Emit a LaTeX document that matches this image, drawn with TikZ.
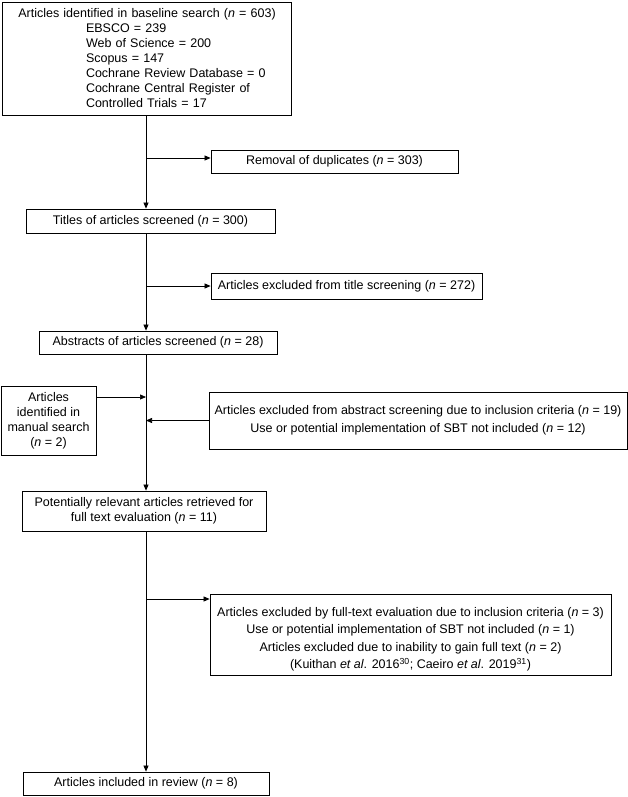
\documentclass[tikz,border=0pt]{standalone}
\usepackage{fontspec}
\setmainfont{Liberation Sans}
\usetikzlibrary{arrows.meta}
\begin{document}
\begin{tikzpicture}[x=1pt,y=-1pt,
  box/.style={draw, line width=0.8pt, inner sep=0pt, align=center, font=\fontsize{12.5}{15}\selectfont},
  conn/.style={line width=0.7pt},
  arr/.style={conn, -{Triangle[length=6pt,width=5pt]}}]
\useasboundingbox (0,0) rectangle (628,797);
\coordinate (s) at (146,0);

\node[box, minimum width=289pt, minimum height=113pt, text width=273pt, align=left] (b1) at (146.5,58.5)
 {\hspace*{8.3pt}Articles identified in baseline search (\textit{n} = 603)\\
  \hspace*{76pt}EBSCO = 239\\
  \hspace*{76pt}Web of Science = 200\\
  \hspace*{76pt}Scopus = 147\\
  \hspace*{76pt}Cochrane Review Database = 0\\
  \hspace*{76pt}Cochrane Central Register of\\
  \hspace*{76pt}Controlled Trials = 17};

\node[box, minimum width=247pt, minimum height=23pt] (rem) at (334.5,161.5)
 {Removal of duplicates (\textit{n} = 303)};

\node[box, minimum width=249pt, minimum height=24pt] (titles) at (150.5,221)
 {Titles of articles screened (\textit{n} = 300)};

\node[box, minimum width=271pt, minimum height=26pt] (texcl) at (346.5,286)
 {Articles excluded from title screening (\textit{n} = 272)};

\node[box, minimum width=238pt, minimum height=23pt] (abs) at (158,342.5)
 {Abstracts of articles screened (\textit{n} = 28)};

\node[box, minimum width=95pt, minimum height=69pt] (manual) at (48.5,420.5)
 {Articles\\ identified in\\ manual search\\ (\textit{n} = 2)};

\node[box, minimum width=418pt, minimum height=57pt, font=\fontsize{12.5}{18}\selectfont] (aexcl) at (418,420.5)
 {Articles excluded from abstract screening due to inclusion criteria (\textit{n} = 19)\\
  Use or potential implementation of SBT not included (\textit{n} = 12)};

\node[box, minimum width=244pt, minimum height=40pt] (pot) at (144,511)
 {Potentially relevant articles retrieved for\\ full text evaluation (\textit{n} = 11)};

\node[box] (fexcl) at (410.5,634.5)
 {\parbox[c][81pt][c]{401pt}{\fontsize{12.5}{17.5}\selectfont\centering\vspace*{10pt}%
  Articles excluded by full-text evaluation due to inclusion criteria (\textit{n} = 3)\\
  Use or potential implementation of SBT not included (\textit{n} = 1)\\
  Articles excluded due to inability to gain full text (\textit{n} = 2)\\
  (Kuithan \textit{et al}. 2016\textsuperscript{30}; Caeiro \textit{et al}. 2019\textsuperscript{31})\par}};

\node[box, minimum width=246pt, minimum height=23pt] (final) at (146,783.5)
 {Articles included in review (\textit{n} = 8)};

\draw[arr] (b1.south -| s) -- (titles.north -| s);
\draw[arr] ([yshift=3.5pt]rem.west -| s) -- ([yshift=3.5pt]rem.west);
\draw[arr] (titles.south -| s) -- (abs.north -| s);
\draw[arr] (texcl.west -| s) -- (texcl.west);
\draw[arr] (abs.south -| s) -- (pot.north -| s);
\draw[arr] ([yshift=23.5pt]manual.east) -- ([yshift=23.5pt]manual.east -| s);
\draw[arr] (aexcl.west) -- (aexcl.west -| s);
\draw[arr] (pot.south -| s) -- (final.north -| s);
\draw[arr] ([yshift=35.5pt]fexcl.west -| s) -- ([yshift=35.5pt]fexcl.west);
\end{tikzpicture}
\end{document}
